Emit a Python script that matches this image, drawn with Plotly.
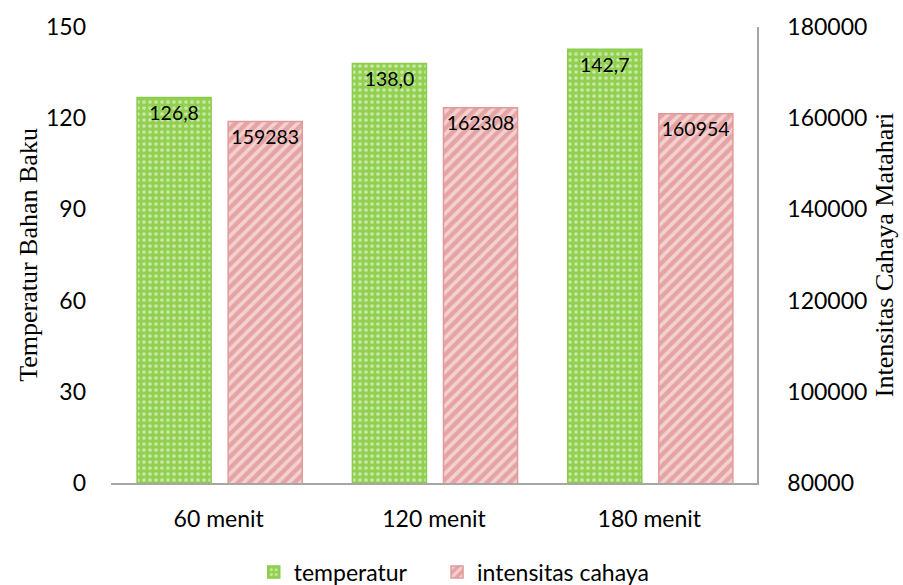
import plotly.graph_objects as go

categories = ["60 menit", "120 menit", "180 menit"]
temperatur = [126.8, 138.0, 142.7]
intensitas = [159283, 162308, 160954]
temp_labels = ["126,8", "138,0", "142,7"]
int_labels = ["159283", "162308", "160954"]

fig = go.Figure()
fig.add_trace(go.Bar(
    x=categories, y=temperatur, name="temperatur", yaxis="y",
    legend="legend",
    width=0.344, offset=-0.379,
    text=temp_labels, textposition="inside", insidetextanchor="end",
    textangle=0, cliponaxis=False,
    textfont=dict(family="Lato", size=20, color="black"),
    marker=dict(color="#92D050",
                line=dict(color="#8CCB4C", width=1.5),
                pattern=dict(shape=".", fgcolor="white", bgcolor="#92D050",
                             size=6, solidity=0.3, fillmode="overlay")),
))
fig.add_trace(go.Bar(
    x=categories, y=intensitas, name="intensitas cahaya", yaxis="y2",
    legend="legend2",
    width=0.344, offset=0.044,
    text=int_labels, textposition="inside", insidetextanchor="end",
    textangle=0,
    textfont=dict(family="Lato", size=20, color="black"),
    marker=dict(color="#E6A3A3",
                line=dict(color="#E09A99", width=1.5),
                pattern=dict(shape="/", fgcolor="white", bgcolor="#E6A3A3",
                             size=8, solidity=0.45, fillmode="overlay")),
))

leg_common = dict(orientation="h", xanchor="left",
                  xref="container", yref="container", y=0.022, yanchor="middle",
                  font=dict(family="Lato", size=23), itemwidth=30,
                  bgcolor="rgba(0,0,0,0)")

fig.update_layout(
    width=903, height=585,
    margin=dict(l=111, r=146, t=27, b=102, autoexpand=False),
    paper_bgcolor="white", plot_bgcolor="white",
    font=dict(family="Lato", size=23, color="black"),
    barmode="overlay",
    uniformtext=dict(minsize=8, mode="show"),
    showlegend=True,
    legend=dict(x=0.281, **leg_common),
    legend2=dict(x=0.484, **leg_common),
    xaxis=dict(showline=True, linecolor="#A6A6A6", linewidth=1.5,
               ticks="", showgrid=False, tickfont=dict(size=23),
               ticklabelstandoff=15, automargin=False),
    yaxis=dict(range=[0, 150], dtick=30, showgrid=False, showline=False,
               zeroline=False, ticks="", tickfont=dict(size=23),
               ticklabelstandoff=24, automargin=False,
               title=dict(text="Temperatur Bahan Baku",
                          font=dict(family="Liberation Serif", size=26),
                          standoff=0)),
    yaxis2=dict(range=[80000, 180000], dtick=20000, overlaying="y", side="right",
                tickformat="d", automargin=False,
                showgrid=False, showline=True, linecolor="#A6A6A6", linewidth=1.5,
                zeroline=False, ticks="", tickfont=dict(size=23),
                ticklabelstandoff=24,
                title=dict(text="Intensitas Cahaya Matahari",
                           font=dict(family="Liberation Serif", size=26),
                           standoff=8)),
)
fig.write_html("out.html")
